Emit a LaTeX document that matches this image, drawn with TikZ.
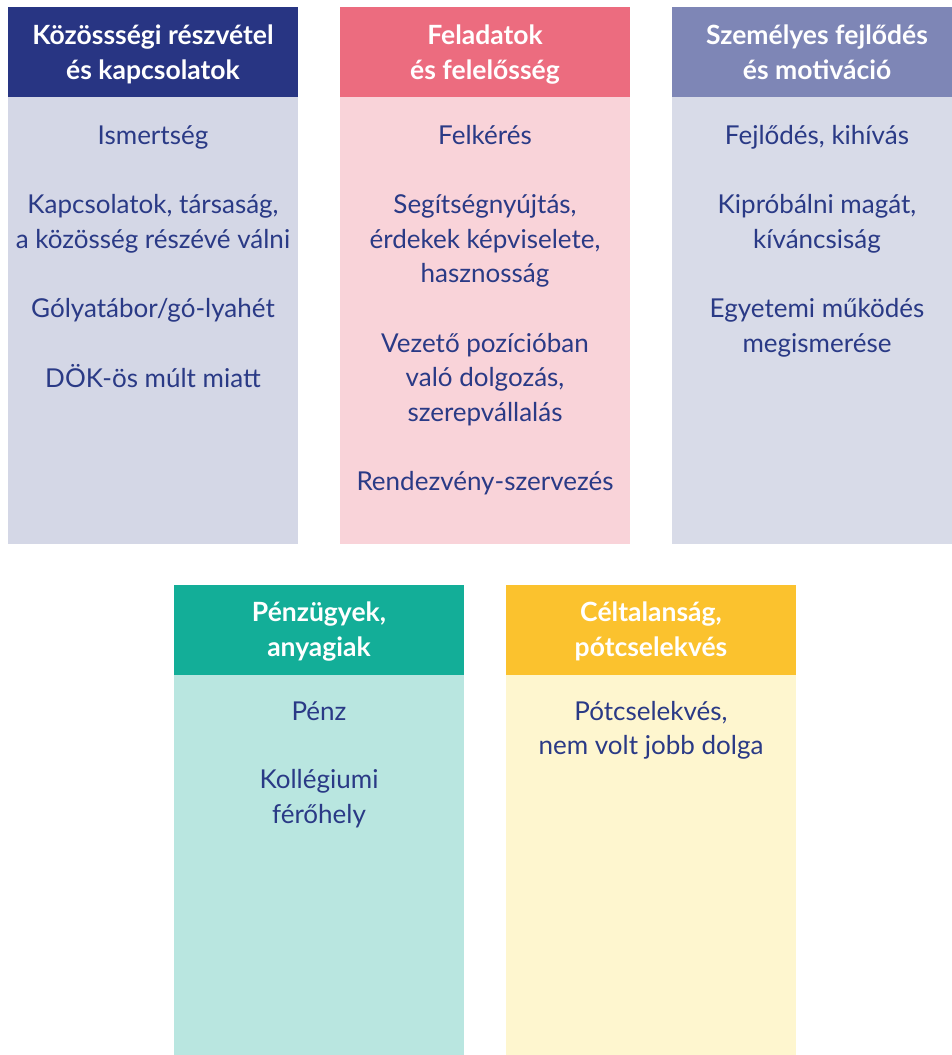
\documentclass[tikz,border=0pt]{standalone}
\usepackage{fontspec}
\setmainfont{Lato}
\definecolor{hA}{HTML}{283583}
\definecolor{bA}{HTML}{D4D7E6}
\definecolor{hB}{HTML}{EC6C7F}
\definecolor{bB}{HTML}{F9D3D9}
\definecolor{hC}{HTML}{7E86B6}
\definecolor{bC}{HTML}{D8DBE8}
\definecolor{hD}{HTML}{13AE98}
\definecolor{bD}{HTML}{B9E6E0}
\definecolor{hE}{HTML}{FBC22E}
\definecolor{bE}{HTML}{FEF6CF}
\definecolor{txt}{HTML}{2A3A86}
\tikzset{
  head/.style={fill=#1, draw=none, anchor=north west, minimum width=290pt, minimum height=90pt, inner sep=0pt},
  bodybox/.style={fill=#1, draw=none, anchor=north west, minimum width=290pt, inner sep=0pt},
  htext/.style={anchor=base, text=white, font=\fontsize{26.5}{30}\selectfont\bfseries, inner sep=0pt},
  btext/.style={anchor=base, text=txt, font=\fontsize{26}{30}\selectfont, inner sep=0pt},
}
\begin{document}
\begin{tikzpicture}[x=1pt,y=-1pt]
\useasboundingbox (0,0) rectangle (952,1055);
\begin{scope}
\clip (0,0) rectangle (952,1055);
% top row boxes
\node[bodybox=bA, minimum height=447pt] (bodyA) at (8,97) {};
\node[head=hA] (headA) at (8,7) {};
\node[bodybox=bB, minimum height=447pt] (bodyB) at (340,97) {};
\node[head=hB] (headB) at (340,7) {};
\node[bodybox=bC, minimum height=447pt] (bodyC) at (672,97) {};
\node[head=hC] (headC) at (672,7) {};
% bottom row boxes
\node[bodybox=bD, minimum height=385pt] (bodyD) at (174,675) {};
\node[head=hD] (headD) at (174,585) {};
\node[bodybox=bE, minimum height=385pt] (bodyE) at (506,675) {};
\node[head=hE] (headE) at (506,585) {};
\end{scope}
% headings
\node[htext] (hA1) at (153,44) {Közössségi részvétel};
\node[htext] (hA2) at (153,79) {és kapcsolatok};
\node[htext] (hB1) at (485,44) {Feladatok};
\node[htext] (hB2) at (485,79) {és felelősség};
\node[htext] (hC1) at (817,44) {Személyes fejlődés};
\node[htext] (hC2) at (817,79) {és motiváció};
\node[htext] (hD1) at (319,621) {Pénzügyek,};
\node[htext] (hD2) at (319,656) {anyagiak};
\node[htext] (hE1) at (651,621) {Céltalanság,};
\node[htext] (hE2) at (651,656) {pótcselekvés};
% column A
\node[btext] (a1) at (153,144) {Ismertség};
\node[btext] (a2) at (153,213.5) {Kapcsolatok, társaság,};
\node[btext] (a3) at (153,248) {a közösség részévé válni};
\node[btext] (a4) at (153,317.5) {Gólyatábor/gó-lyahét};
\node[btext] (a5) at (153,387) {DÖK-ös múlt miatt};
% column B
\node[btext] (b1) at (485,144) {Felkérés};
\node[btext] (b2) at (485,213.5) {Segítségnyújtás,};
\node[btext] (b3) at (485,248) {érdekek képviselete,};
\node[btext] (b4) at (485,282.5) {hasznosság};
\node[btext] (b5) at (485,352) {Vezető pozícióban};
\node[btext] (b6) at (485,386.5) {való dolgozás,};
\node[btext] (b7) at (485,421) {szerepvállalás};
\node[btext] (b8) at (485,490.5) {Rendezvény-szervezés};
% column C
\node[btext] (c1) at (817,144) {Fejlődés, kihívás};
\node[btext] (c2) at (817,213.5) {Kipróbálni magát,};
\node[btext] (c3) at (817,248) {kíváncsiság};
\node[btext] (c4) at (817,317.5) {Egyetemi működés};
\node[btext] (c5) at (817,352) {megismerése};
% column D
\node[btext] (d1) at (319,720) {Pénz};
\node[btext] (d2) at (319,788.5) {Kollégiumi};
\node[btext] (d3) at (319,823) {férőhely};
% column E
\node[btext] (e1) at (651,720) {Pótcselekvés,};
\node[btext] (e2) at (651,754.5) {nem volt jobb dolga};
\end{tikzpicture}
\end{document}
